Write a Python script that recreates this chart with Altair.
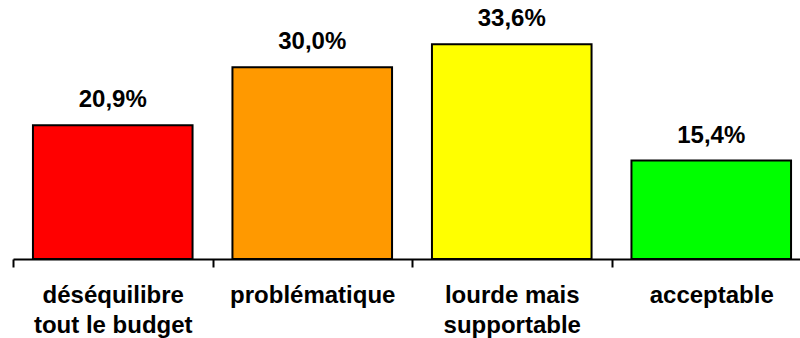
import altair as alt
import pandas as pd

categories = ["déséquilibre\ntout le budget", "problématique", "lourde mais\nsupportable", "acceptable"]
values = [20.9, 30.0, 33.6, 15.4]
colors = ["#FF0000", "#FF9900", "#FFFF00", "#00FF00"]

df = pd.DataFrame({"cat": categories, "val": values, "col": colors})

FONT = "Liberation Sans"

x = alt.X(
    "cat:N",
    sort=categories,
    scale=alt.Scale(range=[0, 798], paddingInner=0.2, paddingOuter=0.1),
    axis=alt.Axis(
        title=None,
        labelAngle=0,
        labelExpr="split(datum.label, '\\n')",
        labelFont=FONT,
        labelFontSize=24,
        labelFontWeight="bold",
        labelColor="black",
        labelLineHeight=30,
        labelPadding=16,
        labelBaseline="top",
        tickSize=8,
        tickWidth=2,
        tickColor="black",
        tickOffset=-99.75,
        labelOffset=99.75,
        domainColor="black",
        domainWidth=2,
        grid=False,
    ),
)

y = alt.Y("val:Q", scale=alt.Scale(domain=[0, 40.5], nice=False, zero=True), axis=None)

bars = alt.Chart(df).mark_bar(stroke="black", strokeWidth=2).encode(
    x=x,
    y=y,
    color=alt.Color("col:N", scale=None),
)

labels = alt.Chart(df).transform_calculate(
    lab="replace(format(datum.val, '.1f'), '.', ',') + '%'"
).mark_text(
    font=FONT, fontSize=24, fontWeight="bold", color="black", baseline="bottom", dy=-13
).encode(
    x=alt.X("cat:N", sort=categories),
    y=y,
    text="lab:N",
)

chart = alt.layer(bars, labels).properties(
    width=787,
    height=259,
    background="white",
    autosize=alt.AutoSizeParams(type="none"),
    padding={"left": 13, "top": 0, "right": 0, "bottom": 79},
).configure_view(stroke="transparent", strokeWidth=0)

chart.save("out.html", embed_options={"renderer": "svg", "actions": False})
